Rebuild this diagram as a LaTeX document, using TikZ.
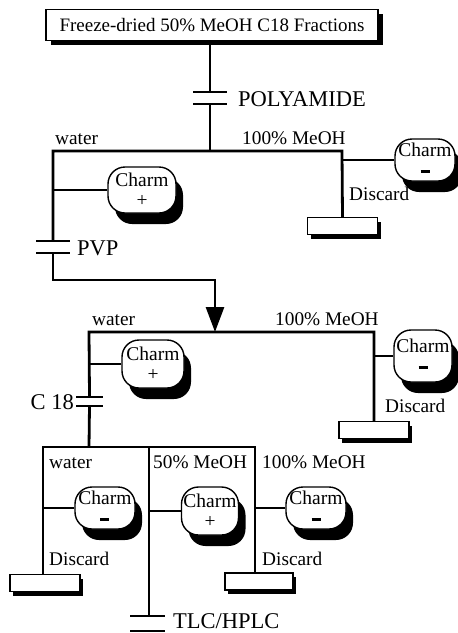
\documentclass[tikz,border=0pt]{standalone}
\usepackage{fontspec}
\setmainfont{Liberation Serif}
\usetikzlibrary{arrows.meta,shadows}
\tikzset{
every picture/.style={line cap=butt,line join=miter},
flow/.style={draw=black,line width=2.8pt},
head box/.style={draw=black,line width=1.5pt,fill=white,minimum width=332pt,minimum height=31pt,
  font=\fontsize{19}{20}\selectfont,inner sep=2pt,
  drop shadow={shadow xshift=5pt,shadow yshift=-4pt,fill=black,opacity=1}},
charm node/.style={draw=black,line width=1.4pt,fill=white,rounded corners=17pt,
  minimum width=60pt,minimum height=46pt,align=center,inner sep=1pt,
  font=\fontsize{19.5}{20}\selectfont,
  drop shadow={shadow xshift=7pt,shadow yshift=-11pt,fill=black,opacity=1}},
bin node/.style={draw=black,line width=1.4pt,fill=white,minimum width=70pt,minimum height=17pt,inner sep=0pt,
  drop shadow={shadow xshift=3pt,shadow yshift=-4pt,fill=black,opacity=1}},
column node/.style={minimum width=34pt,minimum height=13pt,inner sep=0pt,
  path picture={
    \draw[line width=3pt] (path picture bounding box.north west) -- (path picture bounding box.north east);
    \draw[line width=3pt] (path picture bounding box.south west) -- (path picture bounding box.south east);
  }},
lbl/.style={font=\fontsize{19.3}{20}\selectfont,inner sep=0pt,anchor=base west},
col lbl/.style={font=\fontsize{22.5}{24}\selectfont,inner sep=0pt},
}
\newcommand{\plusmark}{\\+}
\newcommand{\minusmark}{\\\rule[4pt]{9pt}{3pt}}

\begin{document}
\begin{tikzpicture}[x=1pt,y=-1pt]
\useasboundingbox (0,0) rectangle (458,633);

% first stage: polyamide
\node[head box] (fract) at (212,25) {Freeze-dried 50\% MeOH C18 Fractions};
\node[column node] (polya) at (210,97.5) {};
\node[col lbl,anchor=west] at (238,99) {POLYAMIDE};
\coordinate (ja) at (210,151);
\coordinate (ja left) at (53,151);
\coordinate (ja right) at (342,151);
\node[lbl] at (55,144) {water};
\node[lbl] at (242,144) {100\% MeOH};
\node[charm node,minimum width=68pt] (ch1p) at (142,190) {Charm\plusmark};
\node[charm node,minimum height=42pt] (ch1m) at (425,160) {Charm\minusmark};
\node[lbl] at (349,200) {Discard};
\node[bin node] (bin1) at (342.5,226) {};
\node[column node] (pvp) at (53,246.5) {};
\node[col lbl,anchor=west] at (77,248) {PVP};
\coordinate (jb) at (53,280);
\draw[flow] (fract.south -| polya.north) -- (polya.north);
\draw[flow] (polya.south) -- (ja);
\draw[flow] (pvp.north) -- (ja left) -- (ja right) -- (bin1.north);
\draw[flow] (ch1p.west) -- (ch1p.west -| ja left);
\draw[flow] (ch1m.west) -- (ch1m.west -| ja right);

% second stage: C 18
\coordinate (jc) at (215,332);
\coordinate (jc left) at (89,332);
\coordinate (jc right) at (374,332);
\draw[flow,-{Triangle[length=25pt,width=18pt]}] (pvp.south) -- (jb) -| (jc);
\node[lbl] at (92,325) {water};
\node[lbl] at (275,325) {100\% MeOH};
\node[charm node,minimum width=62pt,minimum height=48pt] (ch2p) at (153,364) {Charm\plusmark};
\node[charm node,minimum width=58pt,minimum height=52pt] (ch2m) at (423,356) {Charm\minusmark};
\node[lbl] at (385,412) {Discard};
\node[bin node] (bin2) at (374,430) {};
\node[column node,minimum width=27pt,minimum height=10pt] (c18) at (89.5,401) {};
\node[col lbl,anchor=east] at (74,402) {C 18};
\coordinate (jd) at (89,447);
\draw[flow] (c18.north) -- (jc left) -- (jc right) -- (bin2.north);
\draw[flow] (c18.south) -- (jd);
\draw[flow] (ch2p.west) -- (ch2p.west -| jc left);
\draw[flow] (ch2m.west) -- (ch2m.west -| jc right);

% third stage: fractions
\coordinate (je left) at (43,447);
\coordinate (je mid) at (149,447);
\coordinate (je right) at (255,447);
\node[lbl] at (49,468) {water};
\node[lbl] at (153,468) {50\% MeOH};
\node[lbl] at (262,468) {100\% MeOH};
\node[charm node,minimum height=42pt] (ch3a) at (105,508) {Charm\minusmark};
\node[charm node,minimum width=57pt,minimum height=48pt] (ch3b) at (210,511) {Charm\plusmark};
\node[charm node,minimum height=42pt] (ch3c) at (316,508) {Charm\minusmark};
\node[lbl] at (49,565) {Discard};
\node[lbl] at (262,565) {Discard};
\node[bin node] (bin3) at (45,583) {};
\node[bin node,minimum width=68pt] (bin4) at (259,581.5) {};
\node[column node,minimum width=35pt,minimum height=16pt] (tlc) at (147.5,623) {};
\node[col lbl,anchor=base west] at (173,628.5) {TLC/HPLC};
\draw[flow] (bin3.north -| je left) -- (je left) -- (je right) -- (bin4.north -| je right);
\draw[flow] (je mid) -- (tlc.north -| je mid);
\draw[flow] (ch3a.west) -- (ch3a.west -| je left);
\draw[flow] (ch3b.west) -- (ch3b.west -| je mid);
\draw[flow] (ch3c.west) -- (ch3c.west -| je right);
\end{tikzpicture}
\end{document}
